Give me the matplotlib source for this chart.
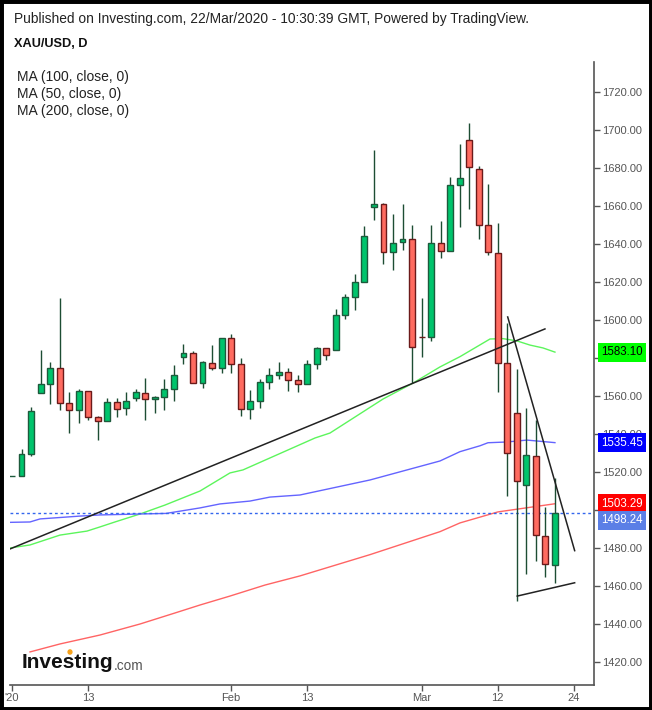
import matplotlib
matplotlib.use("Agg")
import matplotlib.pyplot as plt
import matplotlib.transforms as mtrans
from matplotlib.patches import Rectangle
import numpy as np

plt.rcParams["font.family"] = ["Liberation Sans", "DejaVu Sans"]

# ── Data ──────────────────────────────────────────────────────
# daily candles, index 0 = 1 Jan 2020 ... index 57 = 20 Mar 2020
opens = [1517.9, 1517.9, 1529.5, 1561.6, 1566.3, 1574.7, 1556.3, 1552.6, 1562.6, 1548.9,
         1546.8, 1556.8, 1553.7, 1558.9, 1561.6, 1558.4, 1559.5, 1563.7, 1580.5, 1582.6,
         1566.8, 1577.4, 1574.7, 1590.5, 1576.8, 1553.2, 1557.4, 1567.4, 1571.1, 1572.6,
         1568.4, 1566.3, 1576.8, 1585.3, 1584.2, 1602.6, 1612.1, 1620.0, 1659.5, 1661.1,
         1635.8, 1641.1, 1642.6, 1591.2, 1591.0, 1640.5, 1636.3, 1671.1, 1694.7, 1679.5,
         1650.0, 1635.3, 1577.4, 1551.1, 1513.2, 1528.4, 1486.3, 1471.1]
highs = [1517.9, 1532.0, 1554.2, 1584.2, 1577.9, 1611.6, 1562.1, 1563.7, 1562.6, 1549.5,
         1558.9, 1558.9, 1562.1, 1563.7, 1569.5, 1560.0, 1569.0, 1576.3, 1587.4, 1583.7,
         1578.4, 1586.8, 1590.5, 1592.6, 1580.0, 1563.2, 1569.0, 1574.7, 1577.9, 1574.7,
         1571.1, 1579.0, 1585.8, 1585.3, 1605.8, 1613.7, 1624.2, 1649.5, 1689.5, 1661.6,
         1655.8, 1661.1, 1650.0, 1611.6, 1650.0, 1652.1, 1675.3, 1692.6, 1703.7, 1681.1,
         1671.6, 1651.1, 1598.4, 1574.2, 1553.7, 1547.4, 1501.6, 1516.8]
lows = [1517.9, 1517.9, 1528.4, 1561.6, 1555.8, 1552.6, 1540.5, 1545.8, 1547.4, 1536.8,
        1546.8, 1548.9, 1550.0, 1557.4, 1547.4, 1551.0, 1552.6, 1557.4, 1576.8, 1566.8,
        1564.2, 1573.7, 1572.1, 1572.1, 1549.5, 1547.9, 1553.7, 1563.7, 1569.0, 1562.6,
        1562.1, 1566.3, 1574.2, 1579.0, 1584.2, 1600.5, 1605.3, 1620.0, 1652.6, 1629.5,
        1626.3, 1636.8, 1566.8, 1580.5, 1589.0, 1632.6, 1636.3, 1648.9, 1658.4, 1642.6,
        1634.2, 1562.1, 1507.4, 1452.1, 1466.3, 1473.2, 1464.7, 1461.6]
closes = [1517.9, 1529.5, 1552.1, 1566.3, 1574.7, 1556.3, 1552.6, 1562.6, 1548.9, 1546.8,
          1556.8, 1553.2, 1557.4, 1562.1, 1558.4, 1559.5, 1563.7, 1571.1, 1582.6, 1566.8,
          1577.9, 1574.7, 1590.5, 1576.8, 1553.2, 1557.4, 1567.4, 1571.1, 1572.6, 1568.4,
          1566.3, 1576.8, 1585.3, 1581.6, 1602.6, 1612.1, 1620.0, 1644.2, 1661.1, 1635.8,
          1640.5, 1642.6, 1585.8, 1590.8, 1640.5, 1636.3, 1671.1, 1674.7, 1680.5, 1650.0,
          1635.8, 1577.4, 1530.0, 1515.3, 1528.9, 1486.8, 1471.6, 1498.24]

# moving averages, (day index, value) pairs
ma50_x = [-0.21, 1.89, 5.04, 7.87, 9.24, 10.81, 13.44, 16.06, 19.74, 22.88, 24.25, 31.81,
          33.38, 38.95, 42.1, 44.93, 47.03, 50.18, 51.54, 53.01, 54.38, 55.74, 57]
ma50_y = [1480.0, 1481.6, 1486.8, 1488.9, 1491.1, 1493.7, 1497.9, 1502.6, 1510.0, 1519.5,
          1521.1, 1537.9, 1540.5, 1558.4, 1566.8, 1575.3, 1580.7, 1590.0, 1590.2, 1589.0,
          1586.8, 1585.3, 1583.1]
ma100_x = [-0.21, 1.89, 2.94, 7.14, 9.24, 13.44, 16.17, 19.74, 21.84, 24.98, 27.08, 30.23,
           37.58, 44.93, 47.03, 49.13, 49.97, 51.96, 54.06, 57]
ma100_y = [1493.5, 1493.7, 1495.3, 1496.8, 1497.4, 1497.9, 1498.2, 1501.1, 1503.2, 1504.7,
           1506.8, 1507.9, 1515.8, 1525.8, 1530.7, 1533.8, 1535.4, 1535.8, 1536.8, 1535.45]
ma200_x = [1.89, 5.04, 9.24, 13.44, 17.11, 19.74, 22.88, 26.56, 30.23, 37.58, 44.93, 47.03,
           51.02, 57]
ma200_y = [1425.3, 1429.5, 1434.2, 1440.0, 1445.8, 1450.0, 1454.7, 1460.5, 1465.3, 1476.5,
           1488.6, 1493.2, 1499.0, 1503.29]

last_price = 1498.24

# hand-drawn trend lines: (x0, y0, x1, y1) in (day index, price)
trendlines = [(-0.21, 1479.5, 55.95, 1595.3),
              (52.04, 1601.6, 59.07, 1478.6),
              (53.04, 1454.7, 59.07, 1461.7)]

xtick_pos = [0, 8, 23, 31, 43, 51, 59]
xtick_labels = ["'20", "13", "Feb", "13", "Mar", "12", "24"]
yticks = list(range(1420, 1721, 20))

# right-hand price tags: value, box colour, text colour
tags = [(1583.10, "#00ff00", "black"),
        (1535.45, "#0000ff", "white"),
        (1503.29, "#ff0000", "white"),
        (1498.24, "#5b7fe6", "white")]

GREEN = "#00c46c"
RED = "#ff6b60"
GREEN_EDGE = "#1d5a3c"
RED_EDGE = "#6b1a1a"
WICK = "#1d4d33"
AXC = "#555555"

W, H = 652, 710
fig = plt.figure(figsize=(W / 100, H / 100), dpi=100)
fig.patch.set_facecolor("white")

L, R, T, B = 10, 594, 62, 685
ax = fig.add_axes([L / W, 1 - B / H, (R - L) / W, (B - T) / H])
ax.set_xlim(-0.21, 61.1)
ax.set_ylim(1720 - (B - 92) / 1.9, 1720 + (92 - T) / 1.9)

# candles
o, h, l, c = map(np.array, (opens, highs, lows, closes))
idx = np.arange(len(o))
up = c >= o
ax.vlines(idx, l, h, color=WICK, lw=1, zorder=2)
ax.bar(idx[up], (c - o)[up], bottom=o[up], width=0.62, color=GREEN,
       edgecolor=GREEN_EDGE, linewidth=1, zorder=3)
ax.bar(idx[~up], (o - c)[~up], bottom=c[~up], width=0.62, color=RED,
       edgecolor=RED_EDGE, linewidth=1, zorder=3)

# moving averages
ax.plot(ma50_x, ma50_y, color="#5cf55c", lw=1, zorder=1)
ax.plot(ma100_x, ma100_y, color="#6464ff", lw=1, zorder=1)
ax.plot(ma200_x, ma200_y, color="#ff6464", lw=1, zorder=1)

ax.axhline(last_price, color="#3366ee", lw=1, ls=(0, (2, 2)), zorder=1)

for x0, y0, x1, y1 in trendlines:
    ax.plot([x0, x1], [y0, y1], color="#222222", lw=1.1, zorder=4)

# axes styling
for s in ["top", "left"]:
    ax.spines[s].set_visible(False)
for s in ["right", "bottom"]:
    ax.spines[s].set_color(AXC)
    ax.spines[s].set_linewidth(1.2)
ax.yaxis.tick_right()
ax.set_yticks(yticks)
ax.set_yticklabels([f"{v:.2f}" for v in yticks])
ax.set_xticks(xtick_pos)
ax.set_xticklabels(xtick_labels)
ax.tick_params(axis="both", colors=AXC, labelcolor="#555555", labelsize=8,
               length=4, width=1, pad=2)

# price tags on the right axis
tr = mtrans.blended_transform_factory(ax.transAxes, ax.transData)
prev = None
for val, bg, fg in tags:
    ypos = val
    if prev is not None and prev - ypos < 8.6:
        ypos = prev - 8.6
    prev = ypos
    ax.text(1.012, ypos, f"{val:.2f}", transform=tr, ha="left", va="center",
            fontsize=8.3, color=fg, clip_on=False, zorder=10,
            bbox=dict(boxstyle="square,pad=0.3", fc=bg, ec="none"))

# header and legend
fig.text(14 / W, 1 - 19 / H, "Published on Investing.com, 22/Mar/2020 - 10:30:39 GMT, Powered by TradingView.",
         fontsize=9.9, va="center", color="#222222")
fig.text(14 / W, 1 - 44 / H, "XAU/USD, D", fontsize=9.2, fontweight="bold", va="center", color="#111111")
for k, lab in enumerate(["MA (100, close, 0)", "MA (50, close, 0)", "MA (200, close, 0)"]):
    fig.text(17 / W, 1 - (77 + 17 * k) / H, lab, fontsize=10, va="center", color="#222222")

# logo
t1 = fig.text(22 / W, 1 - 663 / H, "Investing", fontsize=15, fontweight="bold", va="center",
              color="#111111")
fig.canvas.draw()
bb = t1.get_window_extent()
fig.text(bb.x1 / W, 1 - 666 / H, ".com", fontsize=9.8, va="center", color="#555555")
fig.patches.append(plt.Circle((70 / W, 1 - 652 / H), 1.9 / W, transform=fig.transFigure,
                              color="#f7a21b", zorder=10))

# black frame
fig.patches.append(Rectangle((0, 0), 1, 1, transform=fig.transFigure, fill=False,
                             ec="black", lw=5, zorder=20))

fig.savefig("out.png", dpi=100)
